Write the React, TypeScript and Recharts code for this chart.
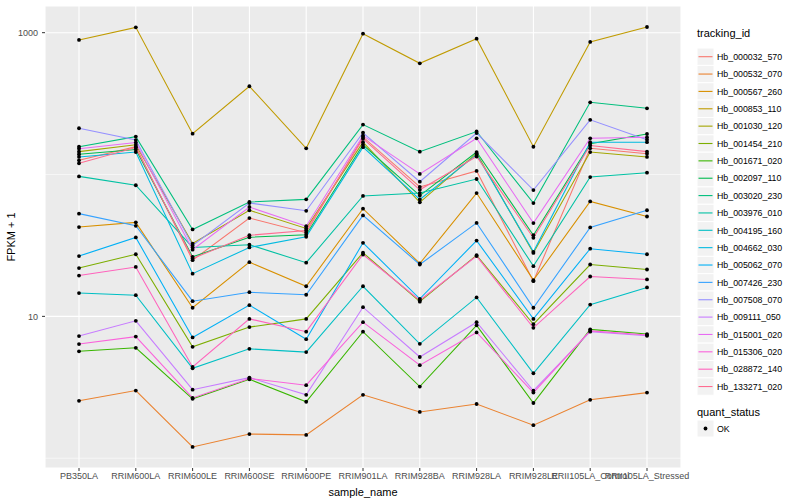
import React from 'react';
import { LineChart, Line, XAxis, YAxis, CartesianGrid, ReferenceLine, Label } from 'recharts';

// sample names on the x axis
const samples = [
  'PB350LA', 'RRIM600LA', 'RRIM600LE', 'RRIM600SE', 'RRIM600PE', 'RRIM901LA',
  'RRIM928BA', 'RRIM928LA', 'RRIM928LE', 'RRII105LA_Control', 'RRII105LA_Stressed',
];

const trackingIds = [
  'Hb_000032_570', 'Hb_000532_070', 'Hb_000567_260', 'Hb_000853_110', 'Hb_001030_120',
  'Hb_001454_210', 'Hb_001671_020', 'Hb_002097_110', 'Hb_003020_230', 'Hb_003976_010',
  'Hb_004195_160', 'Hb_004662_030', 'Hb_005062_070', 'Hb_007426_230', 'Hb_007508_070',
  'Hb_009111_050', 'Hb_015001_020', 'Hb_015306_020', 'Hb_028872_140', 'Hb_133271_020',
];

// ggplot hue palette, 20 levels
const colors = [
  '#F8766D', '#EA8331', '#D89000', '#C09B00', '#A3A500', '#7CAE00', '#39B600', '#00BB4E',
  '#00BF7D', '#00C1A3', '#00BFC4', '#00BAE0', '#00B0F6', '#35A2FF', '#9590FF', '#C77CFF',
  '#E76BF3', '#FA62DB', '#FF62BC', '#FF6C91',
];

// FPKM + 1 per sample (same order as samples)
const hb000032_570 = [126, 157, 24.9, 49.3, 38.9, 184, 81.7, 106, 17.7, 153, 140];
const hb000532_070 = [2.54, 3.0, 1.2, 1.48, 1.46, 2.8, 2.12, 2.41, 1.71, 2.58, 2.9];
const hb000567_260 = [42.6, 46, 11.5, 24.1, 16.3, 57.4, 23.6, 74, 18, 64.6, 50.6];
const hb000853_110 = [889, 1090, 194, 419, 153, 984, 608, 907, 157, 860, 1097];
const hb001030_120 = [145, 162, 32.6, 56, 41.7, 169, 63.7, 141, 28, 144, 133];
const hb001454_210 = [21.9, 27.4, 6.1, 8.4, 9.6, 28.1, 12.7, 27, 8.8, 23.2, 21.4];
const hb001671_020 = [5.67, 6.0, 2.62, 3.6, 2.5, 7.8, 3.2, 8.64, 2.45, 8.1, 7.5];
const hb002097_110 = [139, 150, 26.3, 36.1, 37.6, 162, 71, 144, 37.3, 165, 193];
const hb003020_230 = [157, 185, 41, 64, 66.8, 225, 145, 201, 62.9, 323, 293];
const hb003976_010 = [97, 84, 30.6, 32, 23.9, 70.6, 74, 93, 22.6, 96, 103];
const hb004195_160 = [14.6, 14.1, 4.3, 5.9, 5.6, 16.3, 6.4, 13.6, 3.97, 12.1, 16.0];
const hb004662_030 = [133, 144, 20, 30.6, 36.4, 156, 66.7, 138, 28.5, 169, 169];
const hb005062_070 = [26.6, 36, 7.1, 12.0, 6.9, 33, 13.3, 34.2, 9.6, 30, 27.4];
const hb007426_230 = [53, 43.5, 12.8, 14.8, 14.2, 51.5, 23.2, 45.6, 11.5, 42.4, 56];
const hb007508_070 = [212, 175, 31.6, 63, 55.5, 197, 89, 196, 77.7, 243, 176];
const hb009111_050 = [7.26, 9.3, 3.04, 3.7, 2.8, 11.6, 5.17, 9.1, 2.99, 7.8, 7.3];
const hb015001_020 = [152, 168, 29.5, 59, 43.2, 188, 101, 180, 45.5, 180, 183];
const hb015306_020 = [6.38, 7.2, 2.66, 3.65, 3.27, 9.1, 4.53, 7.7, 2.9, 7.9, 7.4];
const hb028872_140 = [19.4, 22.3, 4.4, 9.6, 7.8, 27.3, 13.0, 26.6, 8.3, 19.1, 18.2];
const hb133271_020 = [120, 155, 25.6, 37.3, 40.3, 179, 78, 134, 35.8, 160, 145];

const seriesValues = [
  hb000032_570, hb000532_070, hb000567_260, hb000853_110, hb001030_120,
  hb001454_210, hb001671_020, hb002097_110, hb003020_230, hb003976_010,
  hb004195_160, hb004662_030, hb005062_070, hb007426_230, hb007508_070,
  hb009111_050, hb015001_020, hb015306_020, hb028872_140, hb133271_020,
];

const yTicks = [10, 1000];
const yMinor = [1, 100];

const data = samples.map((s, i) => {
  const row: Record<string, any> = { sample_name: s };
  trackingIds.forEach((id, j) => {
    row[id] = seriesValues[j][i];
  });
  return row;
});

const FONT = '"Liberation Sans", Arial, Helvetica, sans-serif';

const LegendPanel = () => {
  const step = 17.36;
  const first = 56.7;
  const qTop = 412;
  return (
    <svg width={110} height={500} style={{ position: 'absolute', left: 690, top: 0 }} fontFamily={FONT}>
      <text x={7} y={37} fontSize={11} fill="#000">tracking_id</text>
      {trackingIds.map((id, i) => {
        const c = first + i * step;
        return (
          <g key={id}>
            <rect x={7} y={c - step / 2} width={17} height={step} fill="#F2F2F2" stroke="#fff" strokeWidth={1} />
            <line x1={8.5} x2={22.5} y1={c} y2={c} stroke={colors[i]} strokeWidth={1.1} />
            <text x={27} y={c + 3.2} fontSize={8.8} fill="#000">{id}</text>
          </g>
        );
      })}
      <text x={7} y={qTop + 4} fontSize={11} fill="#000">quant_status</text>
      <rect x={7} y={qTop + 8} width={17} height={17} fill="#F2F2F2" stroke="#fff" strokeWidth={1} />
      <circle cx={15.5} cy={qTop + 16.5} r={1.9} fill="#000" />
      <text x={27} y={qTop + 19.7} fontSize={8.8} fill="#000">OK</text>
    </svg>
  );
};

const App = () => {
  return (
    <div style={{ position: 'absolute', left: 0, top: 0, width: 800, height: 500, background: '#fff' }}>
      <LineChart
        width={800}
        height={500}
        data={data}
        margin={{ top: 6, right: 119, bottom: 0, left: 0 }}
        style={{ fontFamily: FONT }}
      >
        <CartesianGrid fill="#EBEBEB" stroke="#fff" strokeWidth={1.07} />
        {yMinor.map((v) => (
          <ReferenceLine key={v} y={v} stroke="#fff" strokeWidth={0.55} />
        ))}
        <XAxis
          dataKey="sample_name"
          interval={0}
          padding={{ left: 34, right: 34 }}
          axisLine={false}
          tickLine={{ stroke: '#333333' }}
          tickSize={3}
          tickMargin={2}
          height={32}
          tick={{ fontSize: 9, fill: '#4D4D4D' }}
        >
          <Label value="sample_name" position="insideBottom" offset={4} fontSize={11} fill="#000" />
        </XAxis>
        <YAxis
          scale="log"
          domain={[0.853, 1542]}
          allowDataOverflow
          ticks={yTicks}
          width={45}
          axisLine={false}
          tickLine={{ stroke: '#333333' }}
          tickSize={3}
          tickMargin={4}
          tick={{ fontSize: 9, fill: '#4D4D4D' }}
        >
          <Label
            content={() => (
              <text
                x={15}
                y={237}
                transform="rotate(-90 15 237)"
                textAnchor="middle"
                fontSize={11}
                fill="#000"
                fontFamily={FONT}
              >
                FPKM + 1
              </text>
            )}
          />
        </YAxis>
        {trackingIds.map((id, i) => (
          <Line
            key={id}
            type="linear"
            dataKey={id}
            stroke={colors[i]}
            strokeWidth={1.07}
            dot={false}
            activeDot={false}
            isAnimationActive={false}
          />
        ))}
        {trackingIds.map((id) => (
          <Line
            key={id + '_pt'}
            type="linear"
            dataKey={id}
            stroke="none"
            strokeWidth={0}
            dot={{ r: 1.9, fill: '#000', stroke: 'none' }}
            activeDot={false}
            legendType="none"
            isAnimationActive={false}
          />
        ))}
      </LineChart>
      <LegendPanel />
    </div>
  );
};

export default App;
